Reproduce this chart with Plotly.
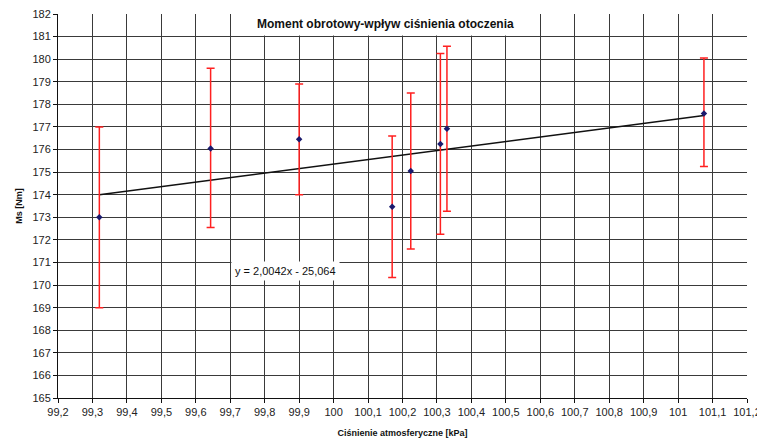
import plotly.graph_objects as go

# ---- data ----
pressure = [99.32, 99.643, 99.90, 100.17, 100.224, 100.31, 100.329, 101.075]
torque = [173.0, 176.05, 176.45, 173.47, 175.05, 176.25, 176.92, 177.6]
err_upper = [4.0, 3.55, 2.45, 3.13, 3.45, 4.0, 3.65, 2.45]
err_lower = [4.0, 3.5, 2.45, 3.14, 3.45, 4.0, 3.65, 2.35]

trend_slope = 2.0042
trend_intercept = -25.064
trend_label = "y = 2,0042x - 25,064"

x_tickvals = [99.2, 99.3, 99.4, 99.5, 99.6, 99.7, 99.8, 99.9, 100.0, 100.1, 100.2,
              100.3, 100.4, 100.5, 100.6, 100.7, 100.8, 100.9, 101.0, 101.1, 101.2]
x_ticktext = ["99,2", "99,3", "99,4", "99,5", "99,6", "99,7", "99,8", "99,9", "100", "100,1",
              "100,2", "100,3", "100,4", "100,5", "100,6", "100,7", "100,8", "100,9", "101",
              "101,1", "101,2"]
y_tickvals = list(range(165, 183))
y_ticktext = [str(v) for v in y_tickvals]

title_text = "Moment obrotowy-wpływ ciśnienia otoczenia"
x_title = "Ciśnienie atmosferyczne [kPa]"
y_title = "Ms [Nm]"

# ---- figure ----
fig = go.Figure()

x_min, x_max = min(pressure), max(pressure)
fig.add_trace(go.Scatter(
    x=[x_min, x_max],
    y=[trend_slope * x_min + trend_intercept, trend_slope * x_max + trend_intercept],
    mode="lines", line=dict(color="#111111", width=1.5),
    showlegend=False, hoverinfo="skip",
))

fig.add_trace(go.Scatter(
    x=pressure, y=torque, mode="markers",
    marker=dict(symbol="diamond", size=5, color="#1a1a6e"),
    error_y=dict(type="data", symmetric=False, array=err_upper, arrayminus=err_lower,
                 color="#ff2020", thickness=1.5, width=4),
    showlegend=False,
))

font_family = "Liberation Sans, Arial, sans-serif"

fig.update_layout(
    width=757, height=439,
    margin=dict(l=58, r=10, t=14, b=41),
    paper_bgcolor="white", plot_bgcolor="white",
    font=dict(family=font_family, size=11, color="#222222"),
    xaxis=dict(
        range=[99.2, 101.2], tickvals=x_tickvals, ticktext=x_ticktext,
        showgrid=True, gridcolor="#3a3a3a", gridwidth=1,
        showline=True, linecolor="#111111", linewidth=1,
        ticks="outside", ticklen=4, tickcolor="#111111",
        zeroline=False, automargin=False, ticklabeloverflow="allow",
        title=dict(text=x_title, font=dict(size=9, color="#111111", weight="bold"), standoff=12),
    ),
    yaxis=dict(
        range=[165, 182], tickvals=y_tickvals, ticktext=y_ticktext,
        showgrid=True, gridcolor="#3a3a3a", gridwidth=1,
        showline=True, linecolor="#111111", linewidth=1,
        ticks="outside", ticklen=4, tickcolor="#111111",
        zeroline=False, automargin=False,
        title=dict(text=y_title, font=dict(size=9, color="#111111", weight="bold"), standoff=8),
    ),
    annotations=[
        dict(text="<b>" + title_text + "</b>", xref="paper", yref="paper",
             x=0.475, y=0.975, xanchor="center", yanchor="middle", showarrow=False,
             font=dict(size=12, color="#111111", family=font_family),
             bgcolor="white", borderpad=4),
        dict(text=trend_label, xref="x", yref="y",
             x=99.86, y=170.62, xanchor="center", yanchor="middle", showarrow=False,
             font=dict(size=11, color="#111111", family=font_family),
             bgcolor="white", borderpad=3),
    ],
)

fig.write_html("out.html", config={"displayModeBar": False},
               post_script="document.body.style.margin='0';document.body.style.overflow='hidden';")
